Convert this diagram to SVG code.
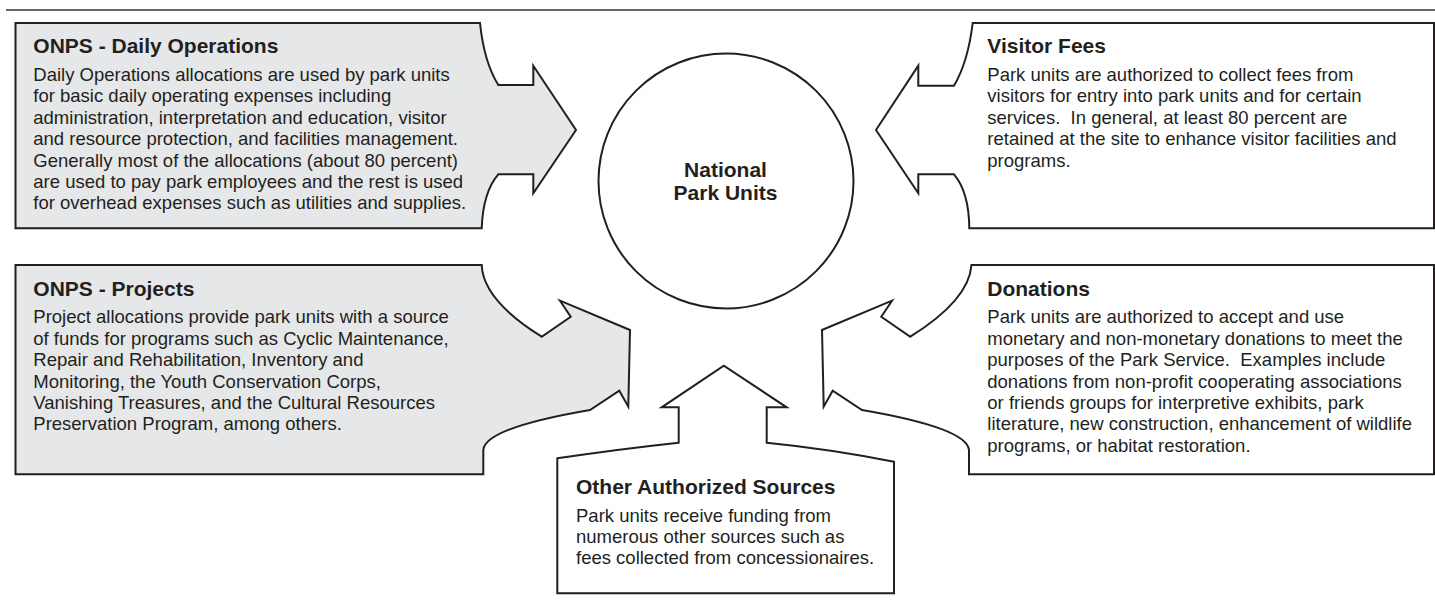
<svg xmlns="http://www.w3.org/2000/svg" width="1435" height="602" viewBox="0 0 1435 602">
<style>
.shape{stroke:#231f20;stroke-width:2;stroke-linejoin:miter}
.gray{fill:#e6e7e8}
.white{fill:#ffffff}
.t{font-family:"Liberation Sans",Arial,Helvetica,sans-serif;font-weight:bold;font-size:21px;fill:#231f20}
.b{font-family:"Liberation Sans",Arial,Helvetica,sans-serif;font-size:18.5px;fill:#231f20}
.c{text-anchor:middle}
</style>
<rect x="0" y="0" width="1435" height="602" fill="#ffffff"/>
<line x1="6" y1="10" x2="1435" y2="10" stroke="#333333" stroke-width="1.5"/>

<g id="node-center">
<circle class="shape white" cx="726" cy="181" r="127.5"/>
<text class="t c" x="725.5" y="176.7">National</text>
<text class="t c" x="725.5" y="200">Park Units</text>
</g>

<g id="node-daily-operations">
<path class="shape gray" d="M15.5,23 H480 Q484,62 498.3,85 H533.3 V65.7 L576,130 L533.3,193.3 V174.3 H498.3 Q483,192 481.7,228.3 H15.5 Z"/>
<text class="t" x="33.3" y="53.3">ONPS - Daily Operations</text>
<text class="b" x="33.3" y="81">Daily Operations allocations are used by park units</text>
<text class="b" x="33.3" y="102.4">for basic daily operating expenses including</text>
<text class="b" x="33.3" y="123.8">administration, interpretation and education, visitor</text>
<text class="b" x="33.3" y="145.2">and resource protection, and facilities management.</text>
<text class="b" x="33.3" y="166.6">Generally most of the allocations (about 80 percent)</text>
<text class="b" x="33.3" y="188">are used to pay park employees and the rest is used</text>
<text class="b" x="33.3" y="209.4">for overhead expenses such as utilities and supplies.</text>
</g>

<g id="node-visitor-fees">
<path class="shape white" d="M1434,23 H972.7 Q968,62 954,85.7 H918.3 V65.7 L876,130 L918.3,193.3 V174.3 H954 Q969,192 969.3,228.3 H1434 Z"/>
<text class="t" x="987.3" y="53.3">Visitor Fees</text>
<text class="b" x="987.3" y="81">Park units are authorized to collect fees from</text>
<text class="b" x="987.3" y="102.4">visitors for entry into park units and for certain</text>
<text class="b" x="987.3" y="123.8" xml:space="preserve">services.  In general, at least 80 percent are</text>
<text class="b" x="987.3" y="145.2">retained at the site to enhance visitor facilities and</text>
<text class="b" x="987.3" y="166.6">programs.</text>
</g>

<g id="node-projects">
<path class="shape gray" d="M15.5,265 H481.7 Q483,300 541.7,336.7 L570.7,316.7 L560,300.7 L630,330 L628.3,406.7 L619.3,390.7 L590,410 Q485,428 483.3,450 V474.3 H15.5 Z"/>
<text class="t" x="33.3" y="296">ONPS - Projects</text>
<text class="b" x="33.3" y="323.3">Project allocations provide park units with a source</text>
<text class="b" x="33.3" y="344.7">of funds for programs such as Cyclic Maintenance,</text>
<text class="b" x="33.3" y="366.1">Repair and Rehabilitation, Inventory and</text>
<text class="b" x="33.3" y="387.5">Monitoring, the Youth Conservation Corps,</text>
<text class="b" x="33.3" y="408.9">Vanishing Treasures, and the Cultural Resources</text>
<text class="b" x="33.3" y="430.3">Preservation Program, among others.</text>
</g>

<g id="node-donations">
<path class="shape white" d="M1434,265 H971.5 Q969,300 910.3,336.7 L881.3,316.7 L892,300.7 L822,330 L823.7,406.7 L832.7,390.7 L862,410 Q967,428 969,450 V474.3 H1434 Z"/>
<text class="t" x="987.3" y="296">Donations</text>
<text class="b" x="987.3" y="323.3">Park units are authorized to accept and use</text>
<text class="b" x="987.3" y="344.7">monetary and non-monetary donations to meet the</text>
<text class="b" x="987.3" y="366.1" xml:space="preserve">purposes of the Park Service.  Examples include</text>
<text class="b" x="987.3" y="387.5">donations from non-profit cooperating associations</text>
<text class="b" x="987.3" y="408.9">or friends groups for interpretive exhibits, park</text>
<text class="b" x="987.3" y="430.3">literature, new construction, enhancement of wildlife</text>
<text class="b" x="987.3" y="451.7">programs, or habitat restoration.</text>
</g>

<g id="node-other-sources">
<path class="shape white" d="M557.3,458.3 Q620,449 678.7,442.7 V407.3 H661.7 L723.8,365.7 L786.7,407.3 H766.7 V442.7 Q830,449 894,461.7 V593.3 H557.3 Z"/>
<text class="t" x="576" y="494.3">Other Authorized Sources</text>
<text class="b" x="576" y="521.7">Park units receive funding from</text>
<text class="b" x="576" y="543">numerous other sources such as</text>
<text class="b" x="576" y="564.3">fees collected from concessionaires.</text>
</g>

<g id="connectors"></g>
</svg>
